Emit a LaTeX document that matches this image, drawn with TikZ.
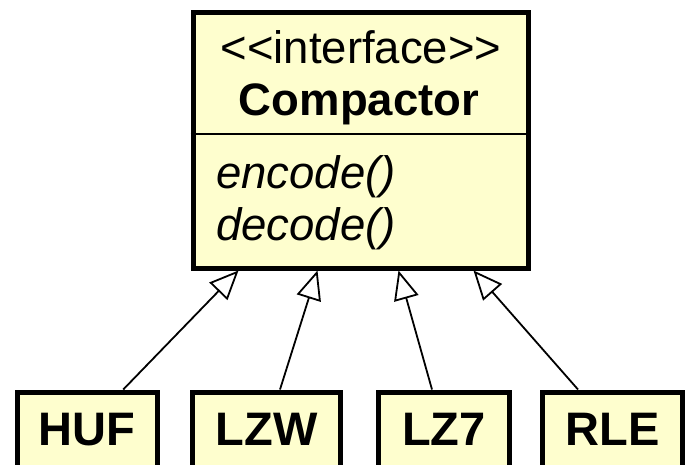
\documentclass[tikz,border=0pt]{standalone}
\usepackage{fontspec}
\setmainfont{Liberation Sans}
\usetikzlibrary{arrows.meta}

\definecolor{umlfill}{HTML}{FEFECE}

\begin{document}
\begin{tikzpicture}[x=1pt, y=-1pt]
% ---------------------------------------------------------
% Dimensions (pixel-like units, y grows downwards)
% ---------------------------------------------------------
\def\IfaceX{360.5}     % centre of the interface box
\def\IfaceY{140}
\def\IfaceW{335}
\def\IfaceH{256}
\def\SplitY{134}       % line between name and operations
\def\LeafY{429.5}      % centre of the implementation boxes
\def\LeafH{75}

% ---------------------------------------------------------
% Styles
% ---------------------------------------------------------
\tikzset{
  class box/.style={draw=black, fill=umlfill, line width=5pt, inner sep=0pt},
  leaf box/.style={class box, minimum height=\LeafH pt,
    font=\fontsize{47}{52}\selectfont\bfseries},
  iface text/.style={font=\fontsize{45.5}{52}\selectfont, inner sep=0pt},
  realizes/.style={line width=1.8pt,
    -{Triangle[open, length=29pt, width=25pt, line width=1.8pt]}}
}

\useasboundingbox (0,0) rectangle (688,464);

% =========================================================
% 1) INTERFACE BOX
% =========================================================
\node[class box, minimum width=\IfaceW pt, minimum height=\IfaceH pt]
  (compactor) at (\IfaceX,\IfaceY) {};
\draw[line width=2pt] (compactor.west |- 0,\SplitY) -- (compactor.east |- 0,\SplitY);

% name compartment
\node[iface text, anchor=base] (stereo) at (361,63) {{<}{<}interface{>}{>}};
\node[iface text, anchor=base, font=\fontsize{45.5}{52}\selectfont\bfseries]
  (name) at (359,115) {Compactor};

% operations compartment
\node[iface text, anchor=base west] (encode) at (216,188) {\itshape encode()};
\node[iface text, anchor=base west] (decode) at (216,240) {\itshape decode()};

% =========================================================
% 2) IMPLEMENTATIONS
% =========================================================
\node[leaf box, minimum width=140.5pt] (huf) at (87.25,\LeafY) {HUF};
\node[leaf box, minimum width=148pt]   (lzw) at (266.5,\LeafY) {LZW};
\node[leaf box, minimum width=131pt]   (lz7) at (444,\LeafY)   {LZ7};
\node[leaf box, minimum width=140pt]   (rle) at (612.5,\LeafY) {RLE};

% =========================================================
% 3) REALIZATION ARROWS
% =========================================================
\draw[realizes] ([xshift=36pt]huf.north)    -- ([xshift=-122pt]compactor.south);
\draw[realizes] ([xshift=13.5pt]lzw.north)  -- ([xshift=-43pt]compactor.south);
\draw[realizes] ([xshift=-12pt]lz7.north)   -- ([xshift=38pt]compactor.south);
\draw[realizes] ([xshift=-34.5pt]rle.north) -- ([xshift=113pt]compactor.south);

\end{tikzpicture}
\end{document}
